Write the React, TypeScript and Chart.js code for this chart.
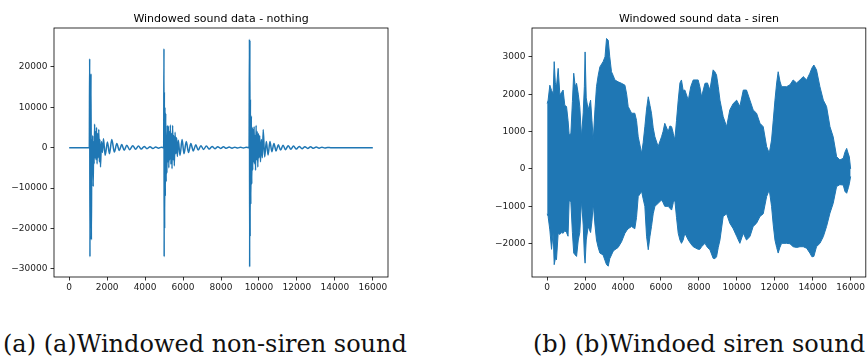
import React, { useEffect, useRef } from 'react';
import { Chart, registerables } from 'chart.js';
Chart.register(...registerables);

// ---------- data ----------
const xTicks = [0, 2000, 4000, 6000, 8000, 10000, 12000, 14000, 16000];
const nothingYTicks = [-30000, -20000, -10000, 0, 10000, 20000];
const sirenYTicks = [-2000, -1000, 0, 1000, 2000, 3000];

// "nothing" recording: silence, three knocks with decaying ringing, silence
const leadX = [0, 1060];
const leadY = [0, 0];
const burst1X = [1080, 1095, 1110, 1125, 1150, 1170, 1190, 1215, 1240, 1265, 1290, 1315, 1340, 1365, 1390, 1415, 1440, 1470,
  1500, 1530, 1560, 1590, 1620, 1650, 1700, 1750, 1807, 1895, 2017, 2122, 2245, 2380, 2510, 2640, 2770, 2900,
  3035, 3190, 3350, 3500, 3650, 3800, 3950, 4100, 4260, 4410, 4560, 4710, 4860];
const burst1Y = [22000, -27000, 12000, -20000, 18300, -22800, 2000, -6000, 3000, -9600, 1500, -4000, 5800, -2500, 4000, -3000, 5000, -4000,
  3500, -2500, 4500, -3500, 2000, -4800, 1500, -1200, 2200, -1900, 1400, -1500, 2000, -1100, 1000, -700, 750, -650,
  600, -500, 500, -400, 400, -350, 300, -250, 200, -200, 150, -120, 100];
const gap1X = [4980];
const gap1Y = [0];
const burst2X = [4995, 5005, 5015, 5030, 5045, 5065, 5085, 5110, 5130, 5150, 5175, 5200, 5225, 5250, 5275, 5300,
  5330, 5360, 5390, 5420, 5450, 5480, 5510, 5540, 5580, 5620, 5660, 5700, 5750, 5840, 5950, 6050, 6170, 6290, 6410, 6540,
  6670, 6800, 6940, 7080, 7230, 7380, 7530, 7680, 7830, 7980, 8130, 8280, 8430, 8580, 8730, 8880, 9030, 9180, 9330];
const burst2Y = [24500, -27000, 13800, -20000, 10000, -12000, 8500, -8400, 3000, -6300, 5500, -3500, 5300, -5000, 4000, -3000,
  5600, -4100, 3500, -5200, 5500, -3000, 3000, -4500, 3800, -1500, 2500, -2200, 1800, -1900, 2000, -1500, 1500, -1200, 1000, -800,
  700, -600, 500, -450, 400, -350, 300, -250, 250, -200, 200, -150, 150, -120, 120, -100, 100, -80, 80];
const gap2X = [9480];
const gap2Y = [0];
const burst3X = [9500, 9510, 9522, 9535, 9550, 9570, 9600, 9620, 9645, 9670, 9695, 9720, 9745, 9770, 9795, 9820,
  9850, 9880, 9910, 9940, 9970, 10000, 10040, 10080, 10130, 10180, 10225, 10300, 10390, 10480,
  10580, 10680, 10790, 10900, 11020, 11140, 11270, 11400, 11540, 11680, 11820, 11970, 12120, 12270, 12420, 12570,
  12720, 12870, 13020, 13170, 13320, 13470, 13620];
const burst3Y = [26800, -29500, 26500, -22000, 12000, -14000, 7800, -9000, 5000, -5500, 4500, -3500, 5200, -4000, 3000, -5600,
  5500, -3000, 4000, -4800, 3500, -2500, 3000, -3500, 2000, -2500, 4500, -2300, 1500, -1800,
  1500, -1000, 1000, -800, 700, -600, 600, -500, 500, -400, 400, -350, 300, -250, 250, -200,
  200, -150, 150, -120, 100, -80, 60];
const tailX = [13780, 16000];
const tailY = [0, 0];

const nothingX = [...leadX, ...burst1X, ...gap1X, ...burst2X, ...gap2X, ...burst3X, ...tailX];
const nothingY = [...leadY, ...burst1Y, ...gap1Y, ...burst2Y, ...gap2Y, ...burst3Y, ...tailY];

// "siren" recording: amplitude envelope (upper / lower) of the dense waveform
const sirenX = [
  0, 50, 140, 230, 316, 370, 430, 490, 580, 670, 760, 840, 930, 1020, 1100, 1160, 1250, 1330, 1400, 1480,
  1550, 1640, 1720, 1810, 1900, 1960, 2000, 2060, 2160, 2290, 2360, 2430, 2520, 2600, 2690, 2780, 2950, 3050,
  3130, 3220, 3300, 3390, 3480, 3570, 3740, 3920, 4100, 4190, 4270, 4450, 4620, 4710, 4800, 4980, 5060, 5150,
  5240, 5330, 5420, 5500, 5590, 5680, 5850, 6030, 6110, 6200, 6380, 6470, 6560, 6650, 6730, 6820, 6910, 7000,
  7080, 7170, 7260, 7440, 7570, 7700, 7960, 8050, 8140, 8320, 8450, 8580, 8750, 8840, 8930, 9020, 9110, 9280,
  9460, 9630, 9810, 9990, 10160, 10340, 10510, 10690, 10860, 11040, 11220, 11390, 11570, 11710, 11830, 11920,
  12010, 12100, 12180, 12270, 12360, 12620, 12800, 12970, 13150, 13330, 13500, 13680, 13850, 13960, 14060, 14200,
  14380, 14560, 14730, 14910, 15080, 15260, 15430, 15610, 15700, 15790, 15880, 15930, 16000,
];
const sirenUpper = [
  1750, 1840, 2240, 2100, 2020, 2870, 2300, 2200, 2690, 1980, 2050, 2110, 1700, 1670, 1300, 910, 950, 1800, 2560, 2200,
  2290, 2000, 1670, 860, 1500, 2200, 3130, 1900, 1580, 1840, 1300, 775, 1600, 2200, 2500, 2730, 2870, 3000,
  3490, 3440, 3000, 2600, 2500, 2380, 2330, 2290, 2240, 2000, 1670, 1490, 1490, 1300, 860, 420, 700, 1130,
  1600, 1930, 1700, 1490, 1100, 860, 600, 860, 1000, 1220, 1000, 1150, 1130, 950, 775, 1300, 1840, 2300,
  2380, 2100, 2110, 1840, 2200, 2380, 2380, 2200, 1930, 2290, 2300, 2110, 2650, 2600, 2510, 2200, 1840, 1400,
  1130, 1580, 1750, 1840, 1670, 2110, 2110, 1840, 1580, 1490, 1220, 1130, 600, 420, 775, 1300,
  1840, 2300, 2600, 2350, 2200, 2200, 2250, 2380, 2300, 2380, 2470, 2380, 2560, 2700, 2780, 2650,
  2200, 1840, 1670, 1130, 860, 330, 240, 285, 450, 550, 400, 330, 0,
];
const sirenLower = [
  -1200, -1270, -1630, -2150, -1700, -2560, -2400, -2430, -1720, -1750, -1700, -1720, -1650, -1700, -1800, -830, -900, -1700, -2250, -2300,
  -2340, -1900, -1700, -850, -1500, -2300, -2520, -1900, -1540, -1700, -1400, -920, -1500, -1900, -2100, -2250, -2300, -2450,
  -2560, -2600, -2400, -2300, -2200, -2160, -2100, -1950, -1720, -1650, -1600, -1540, -1600, -1300, -740, -600, -800, -1000,
  -1800, -2160, -1800, -1540, -1200, -1000, -920, -830, -900, -1000, -1000, -1050, -1100, -900, -830, -1300, -1720, -1900,
  -1990, -1900, -1720, -1900, -2000, -2080, -2150, -2150, -2080, -1990, -2100, -2160, -2390, -2400, -2350, -2100, -1900, -1270,
  -1200, -1450, -1600, -1800, -1990, -1720, -1900, -1810, -1540, -1450, -1270, -1200, -740, -560, -1000, -1500,
  -1900, -2100, -2250, -2100, -1990, -1990, -2000, -2080, -2100, -2080, -2080, -2120, -2250, -2350, -2340, -2080,
  -1990, -1810, -1540, -1180, -920, -470, -420, -430, -600, -650, -500, -400, -200,
];

// ---------- helpers ----------
const BLUE = '#1f77b4';
const tickFont = { family: '"DejaVu Sans", sans-serif', size: 9 };
const fmt = (v: number) => (v < 0 ? '\u2212' + Math.abs(v) : String(v));

const framePlugin = (title: string) => ({
  id: 'frame',
  afterDraw(chart: any) {
    const { ctx, chartArea: a } = chart;
    ctx.save();
    ctx.strokeStyle = '#000';
    ctx.lineWidth = 0.8;
    ctx.strokeRect(a.left, a.top, a.right - a.left, a.bottom - a.top);
    ctx.fillStyle = '#000';
    ctx.font = '11px "DejaVu Sans", sans-serif';
    ctx.textAlign = 'center';
    ctx.textBaseline = 'alphabetic';
    ctx.fillText(title, (a.left + a.right) / 2, 22);
    ctx.restore();
  },
});

function makeScales(yMin: number, yMax: number, yTicks: number[], yWidth: number) {
  const grid = { display: true, drawOnChartArea: false, drawTicks: true, tickLength: 3.5, color: '#000', lineWidth: 0.8 };
  return {
    x: {
      type: 'linear',
      min: -800,
      max: 16800,
      afterBuildTicks: (s: any) => { s.ticks = xTicks.map((v) => ({ value: v })); },
      afterFit: (s: any) => { s.height = 23; },
      ticks: { font: tickFont, color: '#222', padding: 2, maxRotation: 0, autoSkip: false, callback: (v: any) => fmt(v) },
      grid,
      border: { display: false },
    },
    y: {
      type: 'linear',
      min: yMin,
      max: yMax,
      afterBuildTicks: (s: any) => { s.ticks = yTicks.map((v) => ({ value: v })); },
      afterFit: (s: any) => { s.width = yWidth; },
      ticks: { font: tickFont, color: '#222', padding: 3, autoSkip: false, callback: (v: any) => fmt(v) },
      grid,
      border: { display: false },
    },
  };
}

function NothingChart() {
  const ref = useRef<HTMLCanvasElement>(null);
  useEffect(() => {
    const chart = new Chart(ref.current as HTMLCanvasElement, {
      type: 'line',
      data: {
        datasets: [
          {
            data: nothingX.map((x, i) => ({ x, y: nothingY[i] })),
            borderColor: BLUE,
            borderWidth: 1.5,
            pointRadius: 0,
            fill: false,
            cubicInterpolationMode: 'monotone',
          },
        ],
      },
      options: {
        animation: false,
        responsive: false,
        devicePixelRatio: 1,
        layout: { padding: { top: 28, right: 12, left: 0, bottom: 0 } },
        plugins: { legend: { display: false }, tooltip: { enabled: false }, title: { display: false } },
        scales: makeScales(-32000, 29600, nothingYTicks, 54) as any,
      },
      plugins: [framePlugin('Windowed sound data - nothing')],
    } as any);
    return () => chart.destroy();
  }, []);
  return <canvas ref={ref} width={400} height={300} style={{ position: 'absolute', left: 0, top: 0, width: 400, height: 300 }} />;
}

function SirenChart() {
  const ref = useRef<HTMLCanvasElement>(null);
  useEffect(() => {
    const chart = new Chart(ref.current as HTMLCanvasElement, {
      type: 'line',
      data: {
        datasets: [
          {
            data: sirenX.map((x, i) => ({ x, y: sirenUpper[i] })),
            borderColor: BLUE,
            backgroundColor: BLUE,
            borderWidth: 1,
            pointRadius: 0,
            fill: '+1',
            tension: 0,
          },
          {
            data: sirenX.map((x, i) => ({ x, y: sirenLower[i] })),
            borderColor: BLUE,
            backgroundColor: BLUE,
            borderWidth: 1,
            pointRadius: 0,
            fill: false,
            tension: 0,
          },
        ],
      },
      options: {
        animation: false,
        responsive: false,
        devicePixelRatio: 1,
        layout: { padding: { top: 28, right: 1, left: 0, bottom: 0 } },
        plugins: { legend: { display: false }, tooltip: { enabled: false }, title: { display: false } },
        scales: makeScales(-2890, 3770, sirenYTicks, 72) as any,
      },
      plugins: [framePlugin('Windowed sound data - siren')],
    } as any);
    return () => chart.destroy();
  }, []);
  return <canvas ref={ref} width={407} height={300} style={{ position: 'absolute', left: 460, top: 0, width: 407, height: 300 }} />;
}

const captionStyle: React.CSSProperties = {
  position: 'absolute',
  top: 329,
  fontFamily: '"DejaVu Serif", serif',
  fontSize: 24,
  lineHeight: '30px',
  whiteSpace: 'nowrap',
  color: '#111',
};

export default function App() {
  return (
    <div style={{ position: 'absolute', left: 0, top: 0, width: 867, height: 360, background: '#fff', overflow: 'hidden' }}>
      <NothingChart />
      <SirenChart />
      <div style={{ ...captionStyle, left: 3 }}>(a) (a)Windowed non-siren sound</div>
      <div style={{ ...captionStyle, left: 533 }}>(b) (b)Windoed siren sound</div>
    </div>
  );
}
